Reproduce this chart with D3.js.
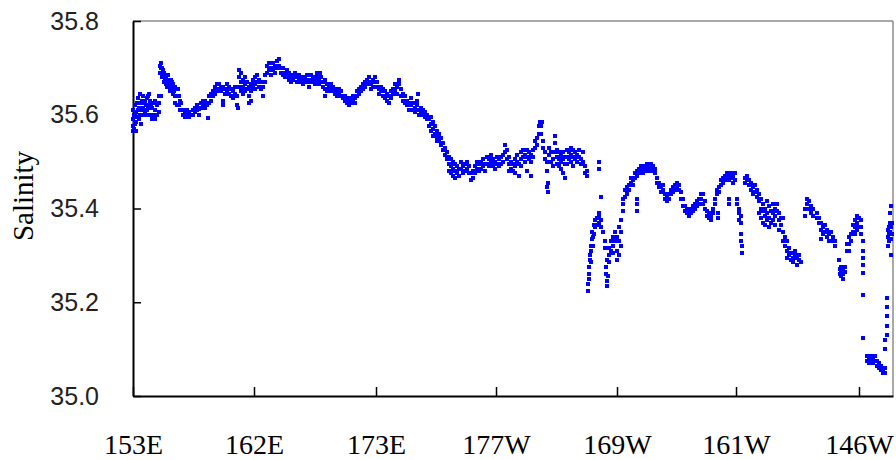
<html>
<head>
<script src="https://d3js.org/d3.v7.min.js"></script>
<style>
  body { margin: 0; background: #fff; }
</style>
</head>
<body>
<svg></svg>
<script>
// track position along the cruise (arbitrary distance units), then salinity readings at that spot
var leg1 = [
  [0,35.565,35.575,35.59,35.61],[1,35.57,35.6],[2,35.6,35.62,35.58],[3,35.585,35.605,35.565],
  [4,35.595,35.625],[5,35.61,35.635],[6,35.59,35.615],[7,35.6,35.625,35.645],[8,35.58,35.61],
  [9,35.6,35.63],[10,35.615,35.64],[11,35.6,35.625],[12,35.605,35.63],[13,35.6,35.62],
  [14,35.61,35.635],[15,35.615,35.64],[16,35.62,35.645],[17,35.6,35.63],[18,35.62],
  [19,35.615,35.59],[20,35.6,35.625],[22,35.59,35.61,35.63],[24,35.6,35.62],[26,35.605,35.625,35.64],
  [27,35.69,35.705],[28,35.7,35.71,35.64],[29,35.68,35.7],[30,35.685,35.695],[31,35.67,35.69],
  [32,35.675],[33,35.68,35.665],[34,35.66,35.675],[35,35.67,35.685],[36,35.665],[37,35.65,35.67],
  [38,35.66,35.675],[39,35.655,35.67],[40,35.645,35.665],[41,35.65],[42,35.64,35.66,35.625],
  [44,35.64,35.62],[45,35.655],[46,35.64,35.62],[47,35.63,35.61],[48,35.625],[50,35.61,35.6],
  [52,35.605,35.595],[54,35.6,35.61],[56,35.595,35.605],[58,35.6],[60,35.6,35.61],[62,35.605,35.615],
  [64,35.61,35.62],[66,35.6,35.612],[68,35.615,35.625],[70,35.62,35.63],[72,35.615,35.63],
  [74,35.62],[75,35.593],[76,35.625,35.64],[78,35.63,35.645],[80,35.64,35.65],[82,35.645,35.66],
  [84,35.65,35.665],[86,35.655,35.665],[88,35.65,35.66],[90,35.63,35.62,35.66],[92,35.655,35.645],
  [94,35.665,35.65],[96,35.645,35.66],[98,35.64,35.655],[100,35.635,35.65],[102,35.645,35.66],
  [104,35.62,35.64],[105,35.615],[106,35.68,35.695,35.66],[108,35.67,35.69,35.65],
  [110,35.66,35.675,35.645],[112,35.665,35.68,35.65],[114,35.655,35.67],[116,35.64,35.66,35.625],
  [118,35.65,35.665,35.63],[120,35.66,35.675]
];
var leg2 = [
  [122,35.665,35.68,35.655],[124,35.67,35.685],[126,35.66,35.675],[128,35.655,35.67],[130,35.64,35.66],
  [132,35.67,35.685],[134,35.69,35.705],[136,35.695,35.71],[138,35.7,35.685],[140,35.695,35.71],
  [142,35.705,35.69],[144,35.715,35.7],[146,35.72,35.705],[148,35.7,35.69],[150,35.685,35.7],
  [152,35.69,35.68],[154,35.68,35.695],[156,35.675,35.69],[158,35.68,35.67],[160,35.685,35.675],
  [162,35.68,35.69],[164,35.67,35.68],[166,35.675,35.685],[168,35.68,35.67],[170,35.675,35.665],
  [172,35.68,35.67],[174,35.685,35.675],[176,35.67,35.66],[178,35.675,35.685],[180,35.68,35.67],
  [182,35.665,35.675],[184,35.68,35.69],[186,35.675,35.665],[187,35.69],[188,35.67,35.68],
  [190,35.66,35.67],[192,35.655,35.675,35.64],[194,35.665,35.65],[196,35.66,35.65],[198,35.655,35.665],
  [200,35.65,35.66],[202,35.645,35.655],[204,35.65,35.64],[206,35.645,35.655],[208,35.64,35.65],
  [210,35.635],[212,35.64,35.63],[214,35.625,35.635],[216,35.62,35.63],[218,35.625,35.635],
  [220,35.63,35.64],[222,35.635,35.625],[224,35.64,35.65],[226,35.645,35.655],[228,35.65,35.66],
  [230,35.655,35.665],[232,35.66,35.67],[234,35.665,35.675],[236,35.67,35.68],[238,35.665,35.655],
  [240,35.675,35.66],[242,35.67,35.68]
];
var leg3 = [
  [244,35.66,35.67],[246,35.655,35.645],[248,35.65,35.66],[250,35.64,35.655],[252,35.635,35.65],
  [254,35.63,35.645],[256,35.64,35.625],[258,35.635,35.65],[260,35.645,35.655],[262,35.65,35.665],
  [264,35.66,35.645],[266,35.665,35.675],[268,35.655,35.64],[270,35.645,35.63],[272,35.64,35.625],
  [274,35.63,35.62],[276,35.625,35.61],[278,35.62,35.635],[280,35.61,35.625],[282,35.615,35.605],
  [284,35.62,35.63],[285,35.645],[286,35.61,35.6],[288,35.615,35.605],[290,35.6,35.61],
  [292,35.595,35.605],[294,35.6,35.59],[296,35.59,35.575],[298,35.58,35.565,35.595],
  [300,35.57,35.585,35.555],[302,35.575,35.56],[304,35.565,35.55,35.545],[306,35.56,35.545],
  [308,35.55,35.535],[310,35.54,35.525],[312,35.53,35.515],[314,35.52,35.505],[316,35.495,35.51,35.48],
  [318,35.49,35.505,35.475],[320,35.485,35.47,35.5],[322,35.48,35.465,35.495],[324,35.49,35.475],
  [326,35.47,35.485],[328,35.485,35.5],[330,35.49,35.475],[332,35.48,35.495],[334,35.5,35.485],
  [336,35.475,35.49],[338,35.46,35.475],[340,35.48,35.465],[342,35.49,35.475],[344,35.485,35.5],
  [346,35.495,35.48],[348,35.5,35.485],[350,35.49,35.505],[352,35.48,35.495],[354,35.495,35.51],
  [356,35.505,35.49],[358,35.5,35.515],[360,35.49,35.505],[362,35.5,35.485]
];
var leg4 = [
  [364,35.51,35.495],[366,35.505,35.49],[368,35.495,35.51],[370,35.5,35.515],[372,35.52,35.535],
  [374,35.525,35.505],[376,35.51,35.495,35.48],[378,35.5,35.485],[380,35.48,35.495],
  [382,35.49,35.505,35.475],[384,35.5,35.515],[386,35.495,35.47],[388,35.505,35.52,35.49],
  [390,35.51,35.525],[392,35.515,35.5],[394,35.51,35.525,35.48],[396,35.52,35.505],
  [398,35.515,35.5,35.47],[400,35.525,35.51],[402,35.53,35.545],[404,35.55,35.535],[406,35.56,35.575],
  [407,35.585,35.58],[408,35.575,35.56],[409,35.585],[410,35.545,35.53],[412,35.52,35.505],
  [414,35.5,35.48,35.445],[415,35.435,35.455],[416,35.515,35.53],[418,35.5,35.52],[420,35.505,35.49],
  [422,35.54,35.555,35.52],[424,35.51,35.525,35.495],[426,35.505,35.52,35.49],[428,35.515,35.5,35.485],
  [430,35.52,35.505,35.475],[432,35.51,35.495,35.465],[434,35.525,35.51,35.495],[436,35.52,35.505],
  [438,35.515,35.53,35.5],[440,35.51,35.525,35.49],[442,35.52,35.505],[444,35.515,35.5],
  [446,35.51,35.525],[448,35.505,35.495],[450,35.52,35.5],[452,35.49,35.475],[454,35.48,35.47],
  [455,35.225,35.24],[456,35.26,35.275,35.25],[457,35.29,35.3],[458,35.31,35.32,35.285],
  [459,35.335,35.35],[460,35.32,35.34],[461,35.365,35.345],[462,35.36,35.375],[464,35.38,35.365],
  [466,35.37,35.385,35.39,35.5,35.485],[468,35.375,35.36,35.425],[470,35.35],[472,35.33,35.315],
  [473,35.26,35.275],[474,35.245,35.235,35.29],[475,35.255],[476,35.3,35.315,35.285],
  [478,35.31,35.33],[480,35.32,35.305,35.34],[482,35.33,35.35]
];
var leg5 = [
  [484,35.34,35.31,35.29],[486,35.33,35.3,35.36],[488,35.35,35.32,35.375],[490,35.42,35.41,35.395],
  [492,35.425,35.44],[494,35.43,35.445],[496,35.45,35.44],[498,35.455,35.465],[500,35.46,35.45],
  [502,35.465,35.475],[504,35.47,35.48,35.42,35.41,35.395],[506,35.475,35.485],[508,35.48,35.49],
  [510,35.485,35.475],[512,35.49,35.48],[514,35.495,35.485],[516,35.49,35.48],[518,35.485,35.495],
  [520,35.48,35.49],[522,35.485,35.475],[524,35.465,35.455],[526,35.455,35.445],[528,35.445,35.435],
  [530,35.44,35.45],[532,35.43,35.42],[534,35.425,35.415],[536,35.42,35.43],[538,35.43,35.44],
  [540,35.435,35.445],[542,35.44,35.45],[544,35.445,35.455],[546,35.45,35.44],[548,35.435,35.42],
  [550,35.42,35.405],[552,35.405,35.395],[554,35.4,35.39],[556,35.395,35.385],[558,35.39,35.4],
  [560,35.395,35.405],[562,35.4,35.41],[564,35.405,35.415],[566,35.41,35.42],[568,35.42,35.43],
  [570,35.43,35.41],[572,35.415,35.4],[574,35.395,35.385],[576,35.39,35.38],[578,35.385,35.375],
  [580,35.39,35.4],[582,35.41,35.42],[584,35.43,35.44],[585,35.39,35.38],[586,35.445,35.435],
  [588,35.45,35.46],[590,35.455,35.465],[592,35.46,35.47],[594,35.465,35.475],
  [596,35.47,35.46,35.42,35.41],[598,35.475,35.465],[600,35.47,35.455],[602,35.46,35.475]
];
var leg6 = [
  [604,35.42,35.41],[606,35.4,35.39,35.375],[608,35.385,35.37,35.345,35.33],[609,35.32,35.305],
  [612,35.465,35.455],[614,35.47,35.46],[616,35.46,35.45],[618,35.455,35.44],[620,35.445,35.43],
  [622,35.45,35.435],[624,35.44,35.425],[626,35.43,35.415,35.39],[628,35.42,35.4,35.38],
  [630,35.41,35.395,35.37],[632,35.4,35.385,35.365],[634,35.415,35.39,35.375],[636,35.405,35.38,35.36],
  [638,35.395,35.37],[640,35.41,35.39,35.375],[642,35.4,35.385,35.365],[644,35.41,35.395],
  [646,35.39,35.375,35.355],[648,35.38,35.365],[650,35.33,35.35,35.38],[652,35.32,35.34],
  [654,35.31,35.295,35.33],[656,35.3,35.315],[658,35.29,35.305],[660,35.295,35.285],[662,35.3,35.31],
  [664,35.295,35.28],[666,35.29,35.3],[668,35.285],[672,35.4,35.385],[674,35.41,35.42],
  [676,35.415,35.4],[678,35.405,35.39],[680,35.4,35.385],[684,35.39,35.38],[686,35.38,35.37],
  [688,35.37,35.355,35.335],[690,35.36,35.345],[692,35.35,35.365],[694,35.34,35.355],
  [696,35.345,35.33],[698,35.35],[700,35.34,35.33],[702,35.33,35.32],[706,35.29],[707,35.27,35.26],
  [708,35.275,35.255,35.265],[710,35.26,35.25,35.27],[712,35.265,35.275],[714,35.31,35.325],
  [716,35.34,35.325,35.31],[718,35.33,35.345],[720,35.35,35.365],[722,35.36,35.375,35.345],
  [724,35.37,35.385,35.355]
];
var leg7 = [
  [726,35.38,35.36],[728,35.375,35.36,35.345],[730,35.33,35.31,35.295,35.28,35.262,35.215,35.124],
  [734,35.075,35.085],[736,35.07,35.08],[738,35.075,35.085],[740,35.08,35.07],[742,35.075,35.085],
  [744,35.065,35.075],[746,35.06,35.07],[748,35.065,35.055],[750,35.055,35.05],
  [752,35.06,35.05,35.1,35.12],[754,35.13,35.15,35.17,35.19,35.21],[755,35.34,35.32,35.355],
  [756,35.36,35.33,35.345],[757,35.37,35.35,35.39],[758,35.405,35.335,35.36,35.3],[759,35.345,35.37]
];

var tickTrack = [0, 121, 243, 363, 484, 603, 726];
var tickLabels = ['153E', '162E', '173E', '177W', '169W', '161W', '146W'];
var yTicks = [35.0, 35.2, 35.4, 35.6, 35.8];

// flatten to one point per reading
var points = [];
[leg1, leg2, leg3, leg4, leg5, leg6, leg7].forEach(function(leg){
  leg.forEach(function(row){
    for (var i = 1; i < row.length; i++) points.push({t: row[0], s: row[i]});
  });
});

var svg = d3.select('svg').attr('width', 896).attr('height', 460);

var x = d3.scaleLinear().domain([0, 760]).range([133, 893]);
var y = d3.scaleLinear().domain([35.0, 35.8]).range([396, 21]);

// gray frame on top and right
svg.append('line').attr('x1', 133).attr('x2', 893).attr('y1', 21).attr('y2', 21)
  .attr('stroke', '#8c8c8c').attr('stroke-width', 1.5);
svg.append('line').attr('x1', 893).attr('x2', 893).attr('y1', 21).attr('y2', 396)
  .attr('stroke', '#8c8c8c').attr('stroke-width', 1.5);

var yAxis = svg.append('g')
  .attr('transform', 'translate(133,0)')
  .call(d3.axisLeft(y).tickValues(yTicks).tickFormat(d3.format('.1f'))
    .tickSize(-8).tickSizeOuter(0).tickPadding(34));
yAxis.selectAll('text')
  .attr('font-family', 'Liberation Sans, Arial, sans-serif')
  .attr('font-size', 25).attr('fill', '#222');

var xAxis = svg.append('g')
  .attr('transform', 'translate(0,396)')
  .call(d3.axisBottom(x).tickValues(tickTrack).tickFormat(function(d, i){ return tickLabels[i]; })
    .tickSize(-9).tickSizeOuter(0).tickPadding(38));
xAxis.selectAll('text')
  .attr('font-family', 'Liberation Serif, Times New Roman, serif')
  .attr('font-size', 28).attr('fill', '#000');

svg.selectAll('.domain').attr('stroke', '#000').attr('stroke-width', 2);
svg.selectAll('.tick line').attr('stroke', '#000').attr('stroke-width', 1.5);

svg.append('text')
  .attr('transform', 'translate(33,196) rotate(-90)')
  .attr('text-anchor', 'middle')
  .attr('font-family', 'Liberation Serif, Times New Roman, serif')
  .attr('font-size', 29)
  .text('Salinity');

svg.append('g').selectAll('rect')
  .data(points)
  .enter()
  .append('rect')
  .attr('x', function(d){ return x(d.t) - 2; })
  .attr('y', function(d){ return y(d.s) - 2; })
  .attr('width', 4)
  .attr('height', 4)
  .attr('shape-rendering', 'crispEdges')
  .attr('fill', '#0000ff');
</script>
</body>
</html>
